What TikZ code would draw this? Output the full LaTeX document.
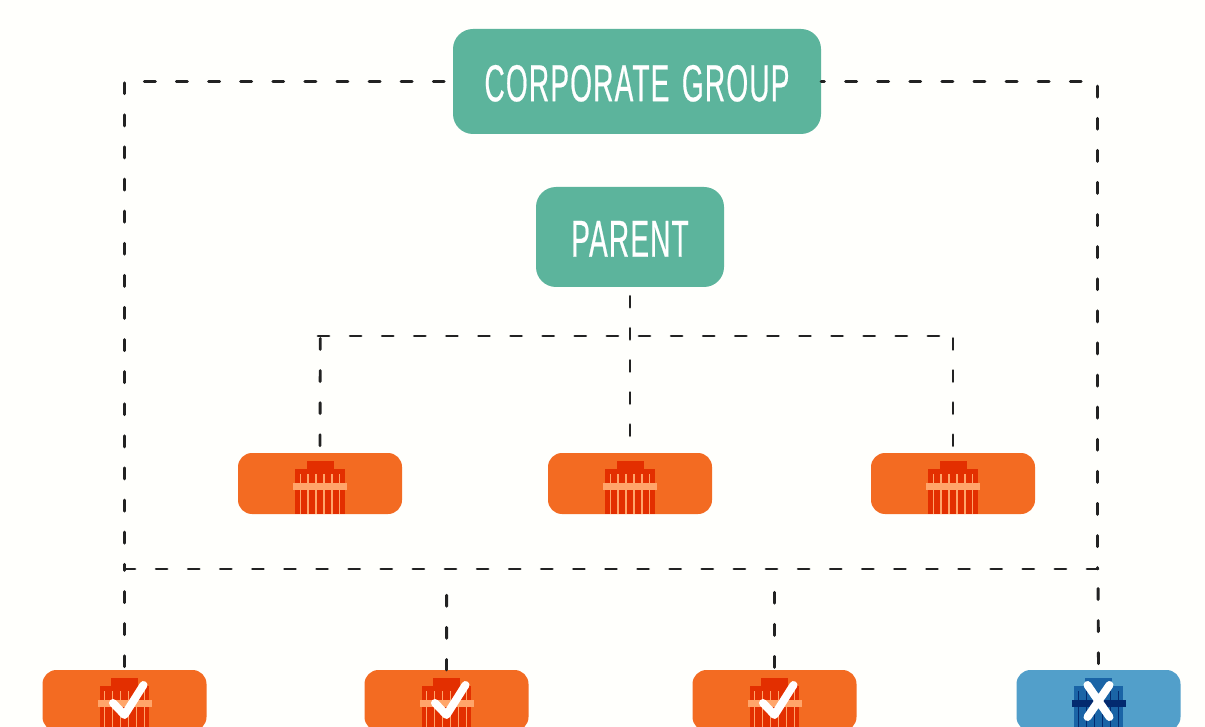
\documentclass[tikz,border=0pt]{standalone}
\usepackage{fontspec}
\newfontfamily\labelfont[FakeStretch=0.54,FakeBold=0.4,LetterSpace=2.2,WordSpace=1.4]{Liberation Sans}
\usetikzlibrary{positioning}

\definecolor{paper}{HTML}{FFFFFC}
\definecolor{groupteal}{HTML}{5CB49C}
\definecolor{unitorange}{HTML}{F36B22}
\definecolor{towerred}{HTML}{E32F00}
\definecolor{bandpeach}{HTML}{FFA56A}
\definecolor{unitblue}{HTML}{529FCA}
\definecolor{towerblue}{HTML}{1A64A6}
\definecolor{banknavy}{HTML}{032A6F}
\definecolor{linkgrey}{HTML}{222222}

\tikzset{
  pics/tower/.style n args={3}{code={
     \fill[#1] (-13.5,8) rectangle (13.5,17);
     \fill[#1] (-24.7,16) rectangle (24.7,61);
     \foreach \k in {-2.5,...,2.5}
       \fill[#2] ({\k*7.9-0.7},21) rectangle ({\k*7.9+0.7},61);
     \fill[#3] (-26.7,30) rectangle (27.3,37);
  }},
  pics/tick/.style={code={
     \draw[white, line width=8pt, line cap=round, line join=round]
        (-11.5,33) -- (0,45) -- (19,15);
  }},
  pics/cross/.style={code={
     \draw[white, line width=8pt, line cap=round]
        (-11,15) -- (11,47) (11,15) -- (-11,47);
  }}
}

\begin{document}
\begin{tikzpicture}[
  x=1pt, y=-1pt,
  group/.style={
     fill=groupteal,
     rounded corners=20pt,
     text=white,
     font=\labelfont\fontsize{52}{52}\selectfont,
     text height=39.5pt,
     text depth=0pt,
     inner sep=0pt,
     outer sep=0pt,
     align=center
  },
  unit/.style={
     fill=unitorange,
     rounded corners=14pt,
     minimum width=164pt,
     minimum height=61pt,
     inner sep=0pt,
     outer sep=0pt
  },
  link/.style={
     draw=linkgrey,
     line width=2.9pt,
     line cap=round,
     dash pattern=on 11pt off 21.1pt,
     dash phase=#1
  }
]
\useasboundingbox (0,0) rectangle (1205,727);
\fill[paper] (0,0) rectangle (1205,727);

\node[group, minimum width=368pt, minimum height=105pt] (corp) at (637,81.5) {CORPORATE GROUP};
\node[group, minimum width=188pt, minimum height=100pt, below=53pt of corp, xshift=-7pt] (parent) {PARENT};

\node[unit, below=166pt of parent]   (subB) {};
\node[unit, left=146pt of subB]      (subA) {};
\node[unit, right=159pt of subB]     (subC) {};

\node[unit, below left=156pt and 31.5pt of subA] (peerA) {};
\node[unit, right=158pt of peerA]    (peerB) {};
\node[unit, right=164pt of peerB]    (peerC) {};
\node[unit, fill=unitblue, right=160pt of peerC] (peerD) {};

\coordinate (topL) at (124.5,81.5);
\coordinate (topR) at (1097.7,81.5);
\coordinate (busL) at (124.5,569);
\coordinate (busR) at (1098,569);
\coordinate (tapB) at (446.7,575);
\coordinate (tapC) at (774.5,572);
\coordinate (hubL) at (318,336);
\coordinate (hubA) at (320.3,336);
\coordinate (hubC) at (953,336);

\foreach \sub in {subA,subB,subC}
  \pic at (\sub.north) {tower={towerred}{bandpeach}{bandpeach}};
\foreach \peer in {peerA,peerB,peerC}{
  \pic at (\peer.north) {tower={towerred}{bandpeach}{bandpeach}};
  \pic at (\peer.north) {tick};
}
\pic at (peerD.north) {tower={towerblue}{banknavy}{banknavy}};
\pic at (peerD.north) {cross};

\draw[link=23.35] (corp.west) -- (topL) -- (busL);
\draw[link=7.55]  (corp.east) -- (topR) -- (topR |- busR);
\draw[link=0]     (busR) -- (busL);

\draw[link=28.85] (peerA.north) -- (busL);
\draw[link=11.85] (tapB) -- (peerB.north);
\draw[link=11.85] (tapC) -- (peerC.north);
\draw[link=25.85] (peerD.north) -- (busR);

\draw[link=22.85] (parent.south) -- (subB.north);
\draw[link=0]     (hubL) -- (hubC);
\draw[link=24.85] (subA.north) -- (hubA);
\draw[link=24.85] (subC.north) -- (hubC);

\end{tikzpicture}
\end{document}
